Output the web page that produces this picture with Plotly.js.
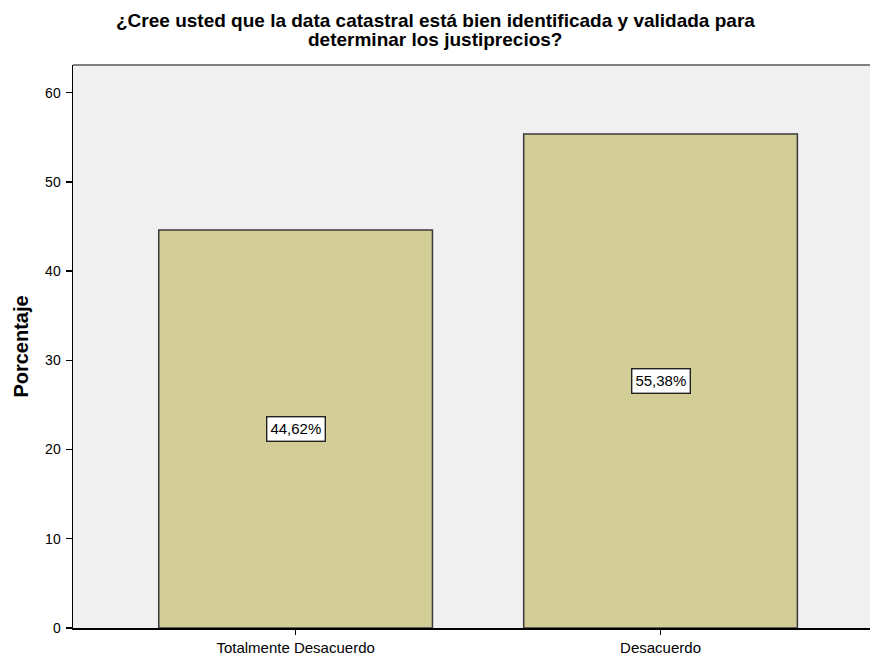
<!DOCTYPE html>
<html>
<head>
<meta charset="utf-8">
<script src="https://cdn.plot.ly/plotly-3.0.1.min.js"></script>
<style>html,body{margin:0;padding:0;background:#fff;}#chart{width:870px;height:656px;}</style>
</head>
<body>
<div id="chart"></div>
<script>
const categories = ["Totalmente Desacuerdo", "Desacuerdo"];
const percentages = [44.62, 55.38];
const valueLabels = ["44,62%", "55,38%"];
const yTicks = [0, 10, 20, 30, 40, 50, 60];
const titleLines = ["¿Cree usted que la data catastral está bien identificada y validada para", "determinar los justiprecios?"];
const yTitle = "Porcentaje";

const FONT = "Liberation Sans, Arial, sans-serif";
const PLOT_TOP = 65, PLOT_BOTTOM = 628;
const toPaperY = px => (PLOT_BOTTOM - px) / (PLOT_BOTTOM - PLOT_TOP);

const trace = {
  type: "bar",
  x: categories,
  y: percentages,
  marker: {color: "#D3CE98", line: {color: "#3a3a3a", width: 1.5}},
  hoverinfo: "skip"
};

const annotations = categories.map((c, i) => ({
  x: c, y: percentages[i] / 2, xref: "x", yref: "y",
  text: valueLabels[i], showarrow: false,
  font: {family: FONT, size: 15, color: "#000"},
  bgcolor: "#ffffff", bordercolor: "#222", borderwidth: 1.4, borderpad: 3
}));

const titleCenters = [20, 39];
titleLines.forEach((line, i) => {
  annotations.push({
    xref: "paper", yref: "paper", x: (435 - 73) / 797, y: toPaperY(titleCenters[i]),
    xanchor: "center", yanchor: "middle",
    text: "<b>" + line + "</b>",
    showarrow: false, align: "center",
    font: {family: FONT, size: 19, color: "#000"}
  });
});

const layout = {
  width: 870, height: 656,
  margin: {l: 73, r: 0, t: PLOT_TOP, b: 656 - PLOT_BOTTOM},
  paper_bgcolor: "#ffffff",
  plot_bgcolor: "#F0F0F0",
  bargap: 0.25,
  showlegend: false,
  xaxis: {
    type: "category",
    range: [-0.61, 1.574],
    showgrid: false, zeroline: false,
    showline: true, linecolor: "#000", linewidth: 1.5,
    ticks: "outside", ticklen: 5, tickwidth: 1.3, tickcolor: "#000",
    tickfont: {family: FONT, size: 15, color: "#000"},
    fixedrange: true
  },
  yaxis: {
    range: [0, 63.1],
    tickvals: yTicks,
    showgrid: false, zeroline: false,
    showline: true, linecolor: "#000", linewidth: 1.5,
    ticks: "outside", ticklen: 6, tickwidth: 1.3, tickcolor: "#000",
    ticklabelstandoff: 2,
    tickfont: {family: FONT, size: 14, color: "#000"},
    title: {text: "<b>" + yTitle + "</b>", font: {family: FONT, size: 20, color: "#000"}, standoff: 11},
    fixedrange: true
  },
  shapes: [{
    type: "line", xref: "paper", yref: "paper", x0: 0, x1: 1, y0: 1, y1: 1,
    line: {color: "#808080", width: 2}
  }],
  annotations: annotations
};

Plotly.newPlot("chart", [trace], layout, {displayModeBar: false, staticPlot: true});
</script>
</body>
</html>
